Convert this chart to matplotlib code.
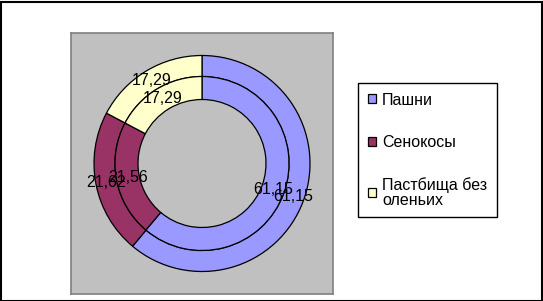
import numpy as np
import matplotlib.pyplot as plt

plt.rcParams['font.family'] = ['Liberation Sans', 'DejaVu Sans']

# Data
categories = ['Пашни', 'Сенокосы', 'Пастбища без\nоленьих']
outer_vals = [61.15, 21.62, 17.29]
inner_vals = [61.15, 21.56, 17.29]
colors = ['#9999FF', '#993366', '#FFFFCC']

W, H = 543, 301
fig = plt.figure(figsize=(W / 100, H / 100), dpi=100)
fig.patch.set_facecolor('white')

# outer black frame of the picture
fig.add_artist(plt.Rectangle((0.5 / W, 0.5 / H), 1 - 2 / W, 1 - 2 / H,
                             transform=fig.transFigure, fill=False,
                             edgecolor='black', linewidth=1.5))

# plot area (pixel coords 71..333 x 33..294)
ax = fig.add_axes([71 / W, (H - 294) / H, 262 / W, 261 / H])

wp = dict(edgecolor='black', linewidth=0.9)
outer, _ = ax.pie(outer_vals, radius=108, colors=colors, startangle=90,
                  counterclock=False, wedgeprops=dict(width=21, **wp))
inner, _ = ax.pie(inner_vals, radius=87, colors=colors, startangle=90,
                  counterclock=False, wedgeprops=dict(width=23, **wp))

def label_ring(wedges, vals, r):
    for w, v in zip(wedges, vals):
        ang = np.deg2rad((w.theta1 + w.theta2) / 2)
        ax.text(r * np.cos(ang), r * np.sin(ang),
                f'{v:.2f}'.replace('.', ','), ha='center', va='center',
                fontsize=11.5, color='black')

label_ring(outer, outer_vals, 97.5)
label_ring(inner, inner_vals, 75.5)

ax.set_frame_on(True)
ax.set_facecolor('#C0C0C0')
for s in ax.spines.values():
    s.set_edgecolor('#808080')
    s.set_linewidth(1.2)
ax.set_xticks([])
ax.set_yticks([])
ax.set_xlim(-131, 131)
ax.set_ylim(-130.5, 130.5)
ax.set_aspect('auto')

leg = fig.legend(outer, categories, loc='upper left',
                 bbox_to_anchor=(358 / W, 1 - 83 / H),
                 frameon=True, fancybox=False, framealpha=1,
                 edgecolor='black', fontsize=11.5,
                 handlelength=0.5, handleheight=0.5, handletextpad=0.4,
                 labelspacing=1.7, borderpad=0.6, borderaxespad=0)
leg.get_frame().set_linewidth(1.0)
for t in leg.get_texts():
    t.set_linespacing(1.0)

fig.savefig('out.png', dpi=100)
